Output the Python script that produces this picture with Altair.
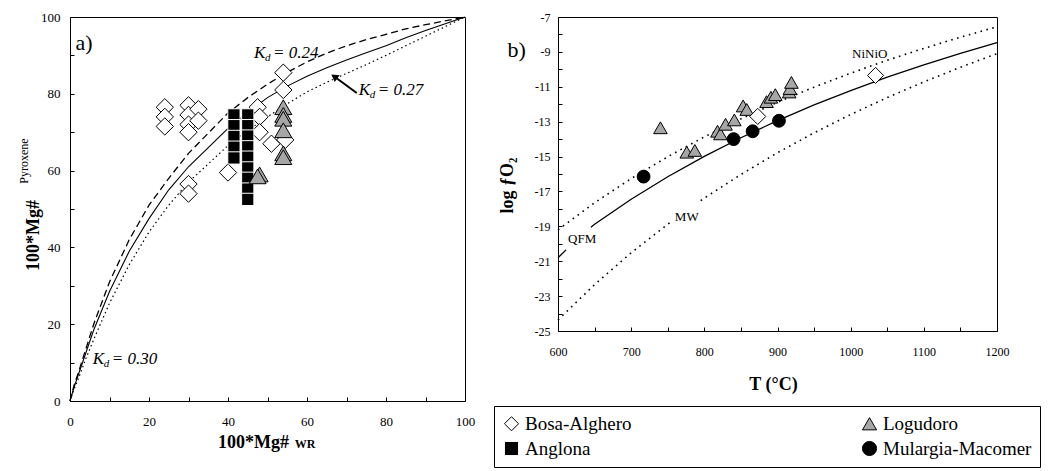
import altair as alt
import pandas as pd

FONT = "Liberation Serif, Times New Roman, serif"

# ---------------- categories / styles ----------------
GROUPS = ["Bosa-Alghero", "Anglona", "Logudoro", "Mulargia-Macomer"]
SHAPES = ["diamond", "square", "triangle-up", "circle"]
FILLS = ["#ffffff", "#000000", "#a6a6a6", "#000000"]
STROKES = ["#000000", "#ffffff", "#000000", "#000000"]

# ---------------- panel a data ----------------
bosa_a_x = [24, 24, 24, 30, 30, 30, 30, 32.5, 32.5, 30, 30, 40, 47.5, 48, 48, 51, 54, 54, 54.5]
bosa_a_y = [76.5, 74, 71.5, 77, 74.5, 72, 70, 76, 73, 56.5, 54, 59.5, 76.5, 74, 70, 67, 85.5, 81, 68]
anglona_a_x = [41.5, 41.5, 41.5, 41.5, 41.5, 45, 45, 45, 45, 45, 45, 45, 45, 45]
anglona_a_y = [74.5, 71.7, 68.9, 66.1, 63.3, 74.5, 71.7, 69, 66.2, 63.5, 60.7, 58, 55.2, 52.5]
logudoro_a_x = [54, 54, 54, 54, 54, 54, 48, 47.5]
logudoro_a_y = [76.5, 74.5, 73.5, 70.5, 64.5, 63.5, 59, 58.5]

kd_x = [0, 1, 2, 4, 6, 10, 15, 20, 25, 30, 40, 45, 50, 55, 60, 65, 70, 75, 80, 85, 90, 100]
kd024_y = [0, 4, 7, 13.5, 20, 31, 42, 51, 58, 64.5, 75, 79, 82.5, 85.6, 88.3, 90.6, 92.5, 94.1, 95.5, 96.9, 98, 100]
kd027_y = [0, 3.5, 6.5, 12.5, 18.5, 28.5, 39, 47.5, 55, 61, 71, 75.2, 79, 82, 84.6, 86.8, 88.8, 90.7, 92.5, 94.6, 96.5, 100]
kd030_y = [0, 3, 5.5, 11, 16, 25.5, 35.5, 44, 51, 57, 66.5, 70.5, 74, 77.4, 80.5, 83, 85.3, 87.6, 90, 92.5, 95, 100]

kd_values = ["0.24", "0.27", "0.30"]
kd_lab_x = [46.6, 73.1, 5.75]
kd_lab_y = [89.3, 79.7, 9.6]
arrow_x = [72.6, 66.9]
arrow_y = [80.2, 84.5]

a_ticks = [0, 10, 20, 30, 40, 50, 60, 70, 80, 90, 100]

# ---------------- panel b data ----------------
bosa_b_t = [873, 1034]
bosa_b_f = [-12.7, -10.35]
logudoro_b_t = [740, 776, 787, 818, 822, 829, 841, 853, 858, 885, 891, 897, 916, 917, 919]
logudoro_b_f = [-13.35, -14.75, -14.65, -13.55, -13.7, -13.15, -12.9, -12.1, -12.3,
                -11.85, -11.6, -11.45, -11.3, -11.1, -10.75]
mulargia_b_t = [717, 840, 866, 902]
mulargia_b_f = [-16.15, -14.0, -13.55, -12.95]

nno_t = [600, 650, 700, 750, 800, 850, 900, 950, 1000, 1050, 1100, 1150, 1200]
nno_f = [-19.2, -17.65, -16.26, -15.01, -13.87, -12.84, -11.89, -11.02, -10.22, -9.48, -8.8, -8.16, -7.56]
qfm_lead_t = [600, 611]
qfm_lead_f = [-20.8, -20.35]
qfm_t = [645, 650, 700, 750, 800, 850, 900, 950, 1000, 1050, 1100, 1150, 1200]
qfm_f = [-19.05, -18.88, -17.45, -16.16, -14.99, -13.92, -12.94, -12.04, -11.22, -10.45, -9.75, -9.09, -8.47]
mw1_t = [600, 650, 700, 755]
mw1_f = [-24.37, -22.34, -20.52, -18.72]
mw2_t = [795, 800, 850, 900, 950, 1000, 1050, 1100, 1150, 1200]
mw2_f = [-17.53, -17.38, -16.03, -14.78, -13.64, -12.59, -11.62, -10.72, -9.88, -9.10]

buf_labels = ["NiNiO", "QFM", "MW"]
buf_lab_t = [1026, 633, 776]
buf_lab_f = [-9.1, -19.7, -18.45]

b_xticks = [600, 650, 700, 750, 800, 850, 900, 950, 1000, 1050, 1100, 1150, 1200]
b_yticks = [-25, -24, -23, -22, -21, -20, -19, -18, -17, -16, -15, -14, -13, -12, -11, -10, -9, -8, -7]

# ---------------- tables ----------------
pts_a = pd.DataFrame({
    "x": bosa_a_x + anglona_a_x + logudoro_a_x,
    "y": bosa_a_y + anglona_a_y + logudoro_a_y,
    "group": ["Bosa-Alghero"] * len(bosa_a_x) + ["Anglona"] * len(anglona_a_x) + ["Logudoro"] * len(logudoro_a_x),
})
curves_a = pd.DataFrame({
    "x": kd_x * 3,
    "y": kd024_y + kd027_y + kd030_y,
    "kd": ["0.24"] * len(kd_x) + ["0.27"] * len(kd_x) + ["0.30"] * len(kd_x),
})
kd_lab = pd.DataFrame({"x": kd_lab_x, "y": kd_lab_y, "v": kd_values})
arrow = pd.DataFrame({"x": arrow_x, "y": arrow_y})
arrow_head = pd.DataFrame({"x": arrow_x[1:], "y": arrow_y[1:]})
panel_a_tag = pd.DataFrame({"x": [1.4], "y": [93.2], "t": ["a)"]})
wr_tag = pd.DataFrame({"x": [56.9], "y": [-12.2], "t": ["WR"]})
pyr_tag = pd.DataFrame({"x": [-11.7], "y": [62.5], "t": ["Pyroxene"]})

pts_b = pd.DataFrame({
    "x": bosa_b_t + logudoro_b_t + mulargia_b_t,
    "y": bosa_b_f + logudoro_b_f + mulargia_b_f,
    "group": ["Bosa-Alghero"] * len(bosa_b_t) + ["Logudoro"] * len(logudoro_b_t) + ["Mulargia-Macomer"] * len(mulargia_b_t),
})
solid_b = pd.DataFrame({
    "x": qfm_lead_t + qfm_t,
    "y": qfm_lead_f + qfm_f,
    "seg": ["lead"] * len(qfm_lead_t) + ["main"] * len(qfm_t),
})
dotted_b = pd.DataFrame({
    "x": nno_t + mw1_t + mw2_t,
    "y": nno_f + mw1_f + mw2_f,
    "seg": ["nno"] * len(nno_t) + ["mw1"] * len(mw1_t) + ["mw2"] * len(mw2_t),
})
buf_lab = pd.DataFrame({"x": buf_lab_t, "y": buf_lab_f, "t": buf_labels})
panel_b_tag = pd.DataFrame({"x": [543.6], "y": [-8.92], "t": ["b)"]})

# ---------------- shared legend / scales ----------------
shape_scale = alt.Scale(domain=GROUPS, range=SHAPES)
fill_scale = alt.Scale(domain=GROUPS, range=FILLS)
stroke_scale = alt.Scale(domain=GROUPS, range=STROKES)
LEG = alt.Legend(
    title=None, orient="none", legendX=424, legendY=389, columns=2,
    columnPadding=228, rowPadding=5, padding=8,
    strokeColor="black", fillColor="white", cornerRadius=0,
    labelFont=FONT, labelFontSize=19, labelColor="black", labelLimit=400, labelOffset=4,
    symbolSize=200, symbolStrokeWidth=1,
)


def symbols(df, group, size, sw, X, Y):
    return alt.Chart(df).transform_filter(alt.datum.group == group).mark_point(
        filled=True, size=size, strokeWidth=sw, opacity=1
    ).encode(
        x=X, y=Y,
        shape=alt.Shape("group:N", scale=shape_scale, legend=LEG),
        fill=alt.Fill("group:N", scale=fill_scale, legend=LEG),
        stroke=alt.Stroke("group:N", scale=stroke_scale, legend=LEG),
    )


# ---------------- panel a ----------------
W_A, H_A = 395, 384
TL = 4
axis_xa = alt.Axis(
    values=a_ticks, labelExpr="datum.value % 20 == 0 ? '' + datum.value : ''",
    ticks=False, tickSize=0, domain=False,
    grid=True, gridColor="black", gridOpacity=1, gridWidth=1, gridDash=[TL, H_A - TL], gridDashOffset=TL,
    labelFont=FONT, labelFontSize=13, labelColor="black", labelPadding=14,
    labelFlush=False, labelOverlap=False,
    title="100*Mg#", titleFont=FONT, titleFontSize=18, titleFontWeight="bold", titleColor="black",
    titleX=183, titleY=46, titleBaseline="alphabetic",
)
axis_ya = alt.Axis(
    values=a_ticks, labelExpr="datum.value % 20 == 0 ? '' + datum.value : ''",
    ticks=False, tickSize=0, domain=False,
    grid=True, gridColor="black", gridOpacity=1, gridWidth=1, gridDash=[TL, W_A - TL],
    labelFont=FONT, labelFontSize=13, labelColor="black", labelPadding=10, labelOverlap=False,
    title="100*Mg#", titleFont=FONT, titleFontSize=18, titleFontWeight="bold", titleColor="black",
    titleX=-32, titleY=218, titleBaseline="alphabetic", titleAngle=270,
)
XA = alt.X("x:Q", scale=alt.Scale(domain=[0, 100], nice=False, zero=False), axis=axis_xa)
YA = alt.Y("y:Q", scale=alt.Scale(domain=[0, 100], nice=False, zero=False), axis=axis_ya)

cur = alt.Chart(curves_a)
line024 = cur.transform_filter(alt.datum.kd == "0.24").mark_line(
    color="black", strokeWidth=1.3, strokeDash=[7, 4]).encode(x=XA, y=YA, order="x:Q")
line027 = cur.transform_filter(alt.datum.kd == "0.27").mark_line(
    color="black", strokeWidth=1.1).encode(x=XA, y=YA, order="x:Q")
line030 = cur.transform_filter(alt.datum.kd == "0.30").mark_line(
    color="black", strokeWidth=1.2, strokeDash=[1.5, 3]).encode(x=XA, y=YA, order="x:Q")

arrow_line = alt.Chart(arrow).mark_line(color="black", strokeWidth=2).encode(x=XA, y=YA, order="x:Q")
arrow_tip = alt.Chart(arrow_head).mark_point(
    shape="triangle-up", filled=True, size=70, angle=306, color="black", opacity=1
).encode(x=XA, y=YA)

kd_base = alt.Chart(kd_lab)
kd_K = kd_base.mark_text(text="K", font=FONT, fontSize=17, fontStyle="italic",
                         align="left", baseline="alphabetic", color="black").encode(x=XA, y=YA)
kd_d = kd_base.mark_text(text="d", font=FONT, fontSize=11, fontStyle="italic",
                         align="left", baseline="alphabetic", dx=11, dy=3, color="black").encode(x=XA, y=YA)
kd_v = kd_base.transform_calculate(lab="'= ' + datum.v").mark_text(
    font=FONT, fontSize=17, fontStyle="italic", align="left", baseline="alphabetic", dx=19, color="black"
).encode(x=XA, y=YA, text="lab:N")

tag_a = alt.Chart(panel_a_tag).mark_text(font=FONT, fontSize=22, align="left", baseline="middle",
                                         color="black").encode(x=XA, y=YA, text="t:N")
wr = alt.Chart(wr_tag).mark_text(font=FONT, fontSize=12, fontWeight="bold", align="left",
                                 baseline="alphabetic", color="black").encode(x=XA, y=YA, text="t:N")
pyr = alt.Chart(pyr_tag).mark_text(font=FONT, fontSize=12, align="center", baseline="middle",
                                   angle=270, color="black").encode(x=XA, y=YA, text="t:N")

panel_a = alt.layer(
    line024, line027, line030,
    symbols(pts_a, "Bosa-Alghero", 300, 1, XA, YA),
    symbols(pts_a, "Anglona", 150, 1, XA, YA),
    symbols(pts_a, "Logudoro", 290, 1, XA, YA),
    arrow_line, arrow_tip, kd_K, kd_d, kd_v, tag_a, wr, pyr,
).properties(width=W_A, height=H_A)

# ---------------- panel b ----------------
W_B, H_B = 439, 314
axis_xb = alt.Axis(
    values=b_xticks, labelExpr="datum.value % 100 == 0 ? '' + datum.value : ''",
    ticks=False, tickSize=0, domain=False,
    grid=True, gridColor="black", gridOpacity=1, gridWidth=1, gridDash=[TL, H_B - TL], gridDashOffset=TL,
    labelFont=FONT, labelFontSize=12, labelColor="black", labelPadding=15,
    labelFlush=False, labelOverlap=False,
    title="T (°C)", titleFont=FONT, titleFontSize=18, titleFontWeight="bold", titleColor="black",
    titleX=215, titleY=58, titleBaseline="alphabetic",
)
axis_yb = alt.Axis(
    values=b_yticks, labelExpr="abs(datum.value) % 2 == 1 ? '-' + abs(datum.value) : ''",
    ticks=False, tickSize=0, domain=False,
    grid=True, gridColor="black", gridOpacity=1, gridWidth=1, gridDash=[TL, W_B - TL],
    labelFont=FONT, labelFontSize=12, labelColor="black", labelPadding=8, labelOverlap=False,
    title="log ƒO₂", titleFont=FONT, titleFontSize=18, titleFontWeight="bold", titleColor="black",
    titleX=-46, titleY=168, titleBaseline="alphabetic", titleAngle=270,
)
XB = alt.X("x:Q", scale=alt.Scale(domain=[600, 1200], nice=False, zero=False), axis=axis_xb)
YB = alt.Y("y:Q", scale=alt.Scale(domain=[-25, -7], nice=False, zero=False), axis=axis_yb)

solid_lines = alt.Chart(solid_b).mark_line(color="black", strokeWidth=1.3).encode(
    x=XB, y=YB, detail="seg:N", order="x:Q")
dotted_lines = alt.Chart(dotted_b).mark_line(color="black", strokeWidth=1.6, strokeDash=[1.6, 4.5]).encode(
    x=XB, y=YB, detail="seg:N", order="x:Q")
buf_text = alt.Chart(buf_lab).mark_text(font=FONT, fontSize=13, align="center", baseline="middle",
                                        color="black").encode(x=XB, y=YB, text="t:N")
tag_b = alt.Chart(panel_b_tag).mark_text(font=FONT, fontSize=22, align="center", baseline="middle",
                                         color="black").encode(x=XB, y=YB, text="t:N")

panel_b = alt.layer(
    dotted_lines, solid_lines,
    symbols(pts_b, "Logudoro", 185, 1, XB, YB),
    symbols(pts_b, "Bosa-Alghero", 260, 1, XB, YB),
    symbols(pts_b, "Mulargia-Macomer", 165, 1, XB, YB),
    buf_text, tag_b,
).properties(width=W_B, height=H_B)

chart = alt.hconcat(panel_a, panel_b, spacing=21).properties(
    padding={"left": 9, "top": 2, "right": 0, "bottom": 0},
    background="white",
).configure_view(stroke="black", strokeWidth=1)

chart.save("out.html", embed_options={"renderer": "svg", "actions": False})
